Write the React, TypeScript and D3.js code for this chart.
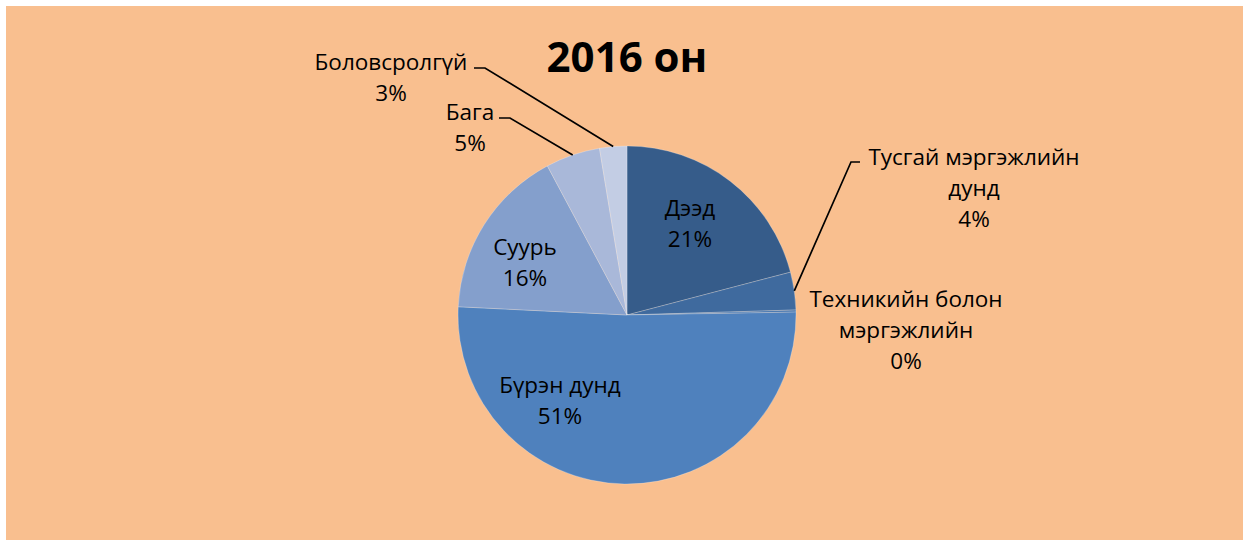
import * as d3 from "d3";

// education level shares, 2016 (%)
const categories = [
  "Дээд",
  "Тусгай мэргэжлийн дунд",
  "Техникийн болон мэргэжлийн",
  "Бүрэн дунд",
  "Суурь",
  "Бага",
  "Боловсролгүй",
];
const shares = [20.9, 3.6, 0.2, 51.0, 16.4, 5.2, 2.6];
// how each category name is wrapped in its label
const labelLines = [
  ["Дээд"],
  ["Тусгай мэргэжлийн", "дунд"],
  ["Техникийн болон", "мэргэжлийн"],
  ["Бүрэн дунд"],
  ["Суурь"],
  ["Бага"],
  ["Боловсролгүй"],
];
const title = "2016 он";

const sliceColors = ["#365c8a", "#3f6a9e", "#4675ae", "#4f81bd", "#849fcc", "#a9b8d9", "#c3cde4"];

// label block placement, relative to the pie centre (first baseline)
const labelPos: { dx: number; dy: number; tick?: [number, number, number] }[] = [
  { dx: 63, dy: -99 },
  { dx: 347, dy: -150, tick: [233, 224, -153] },
  { dx: 279, dy: -8 },
  { dx: -67, dy: 78 },
  { dx: -102, dy: -60 },
  { dx: -157, dy: -195, tick: [-128, -117, -197] },
  { dx: -236, dy: -245, tick: [-153, -142, -247] },
];

const W = 1243;
const H = 540;
const cx = 627;
const cy = 315;
const R = 169;
const lineH = 31;
const font = "'Open Sans', 'Noto Sans', sans-serif";

export default function App() {
  const total = d3.sum(shares);
  const pie = d3.pie<number>().sort(null).value((d) => d);
  const arcs = pie(shares);
  const arc = d3.arc<d3.PieArcDatum<number>>().innerRadius(0).outerRadius(R);
  const edge = d3.arc<d3.PieArcDatum<number>>().innerRadius(R).outerRadius(R);

  return (
    <svg
      width={W}
      height={H}
      style={{ position: "absolute", left: 0, top: 0 }}
      fontFamily={font}
    >
      <rect x={6} y={6} width={W - 6} height={H - 6} fill="#f9bf8f" />
      <text x={cx} y={72} textAnchor="middle" fontSize={42} fontWeight="bold" fill="#000">
        {title}
      </text>
      <g transform={`translate(${cx},${cy})`}>
        {arcs.map((a, i) => (
          <path
            key={categories[i]}
            d={arc(a) || ""}
            fill={sliceColors[i]}
            stroke="#ffffff"
            strokeOpacity={0.3}
            strokeWidth={0.8}
          />
        ))}
        {arcs.map((a, i) => {
          const p = labelPos[i];
          if (!p.tick) return null;
          const [ex, ey] = edge.centroid(a);
          const [x0, x1, y] = p.tick;
          return (
            <path
              key={"l" + i}
              d={`M${x0},${y}L${x1},${y}L${ex},${ey}`}
              fill="none"
              stroke="#000"
              strokeWidth={1.7}
            />
          );
        })}
        {arcs.map((a, i) => {
          const p = labelPos[i];
          const pct = Math.round((shares[i] / total) * 100) + "%";
          const lines = [...labelLines[i], pct];
          return (
            <text key={"t" + i} x={p.dx} y={p.dy} textAnchor="middle" fontSize={22.5} fill="#000">
              {lines.map((t, j) => (
                <tspan key={j} x={p.dx} y={p.dy + j * lineH}>
                  {t}
                </tspan>
              ))}
            </text>
          );
        })}
      </g>
    </svg>
  );
}
